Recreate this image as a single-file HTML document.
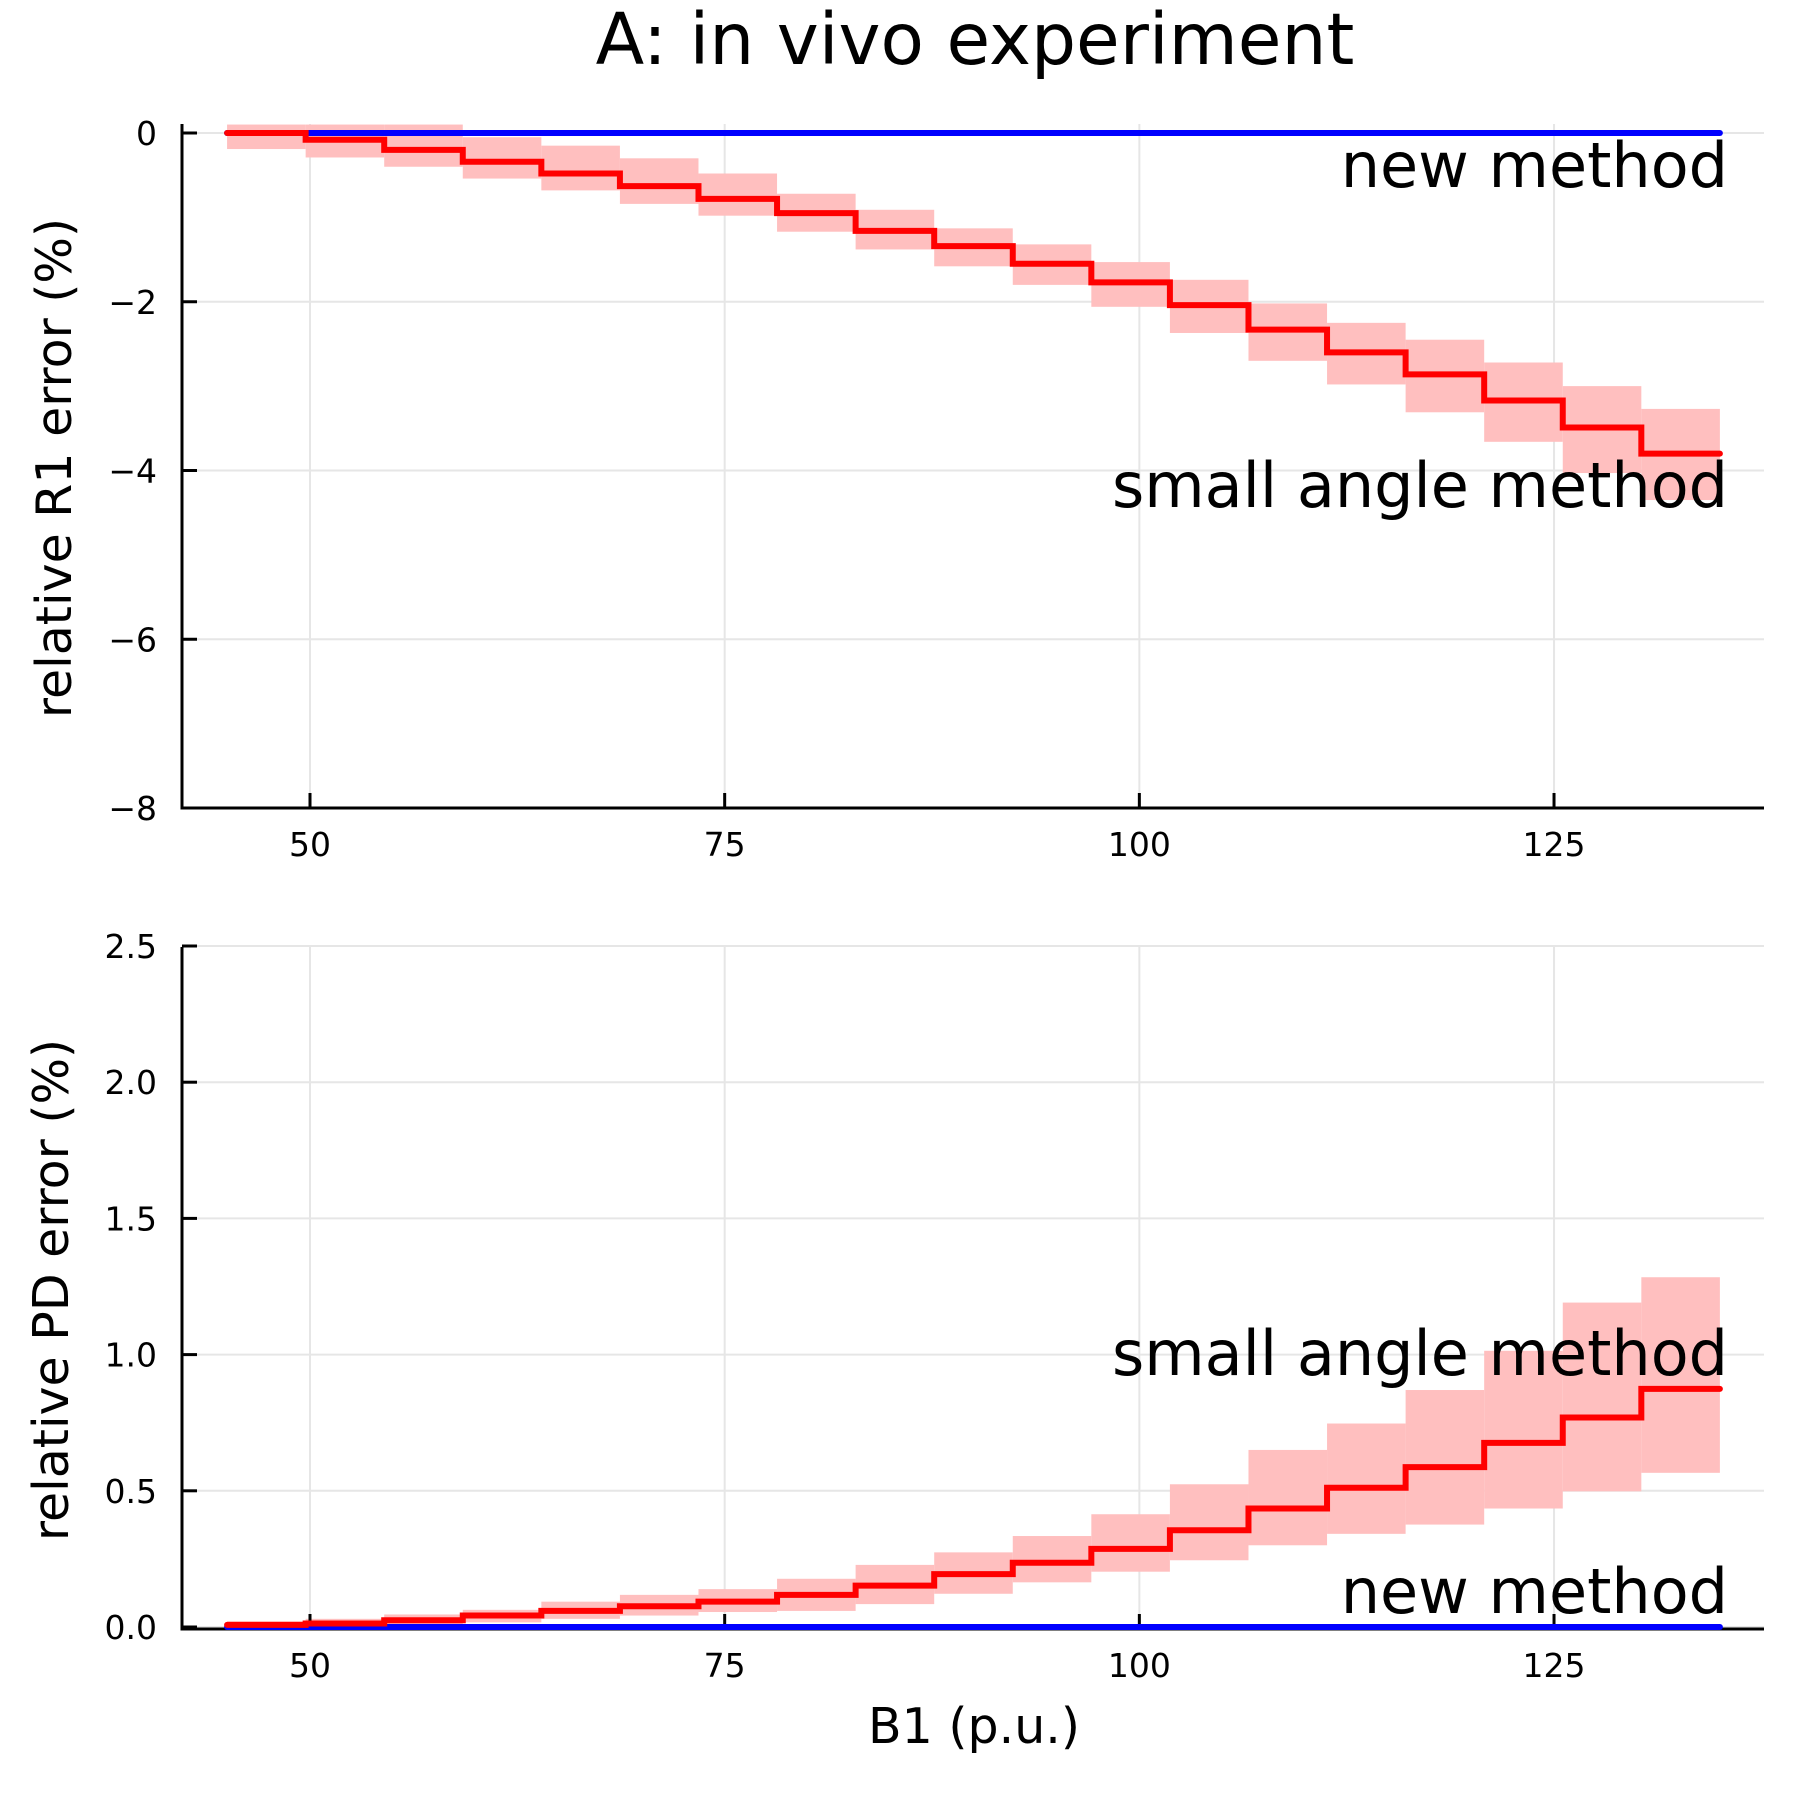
<!DOCTYPE html>
<html><head><meta charset="utf-8"><style>
body{margin:0;background:#fff}
svg text{font-family:"DejaVu Sans","Liberation Sans",sans-serif;fill:#000}
</style></head><body>
<svg id="chart" width="1799" height="1799" viewBox="0 0 1799 1799" xmlns="http://www.w3.org/2000/svg">
<rect width="1799" height="1799" fill="#fff"/>
<text x="975" y="64" font-size="71" text-anchor="middle">A: in vivo experiment</text>
<g id="top"></g>
<g id="bot"></g>
<text x="974" y="1743" font-size="49" text-anchor="middle">B1 (p.u.)</text>
<text transform="translate(71,468) rotate(-90)" font-size="49" text-anchor="middle">relative R1 error (%)</text>
<text transform="translate(68,1290) rotate(-90)" font-size="49" text-anchor="middle">relative PD error (%)</text>
</svg>
<script>
const binStart = 45, binEnd = 135, nBins = 19;
const xTicks = [50, 75, 100, 125];
const r1Ticks = [0, -2, -4, -6, -8];
const r1TickLabels = ["0", "−2", "−4", "−6", "−8"];
const pdTicks = [0, 0.5, 1.0, 1.5, 2.0, 2.5];
const pdTickLabels = ["0.0", "0.5", "1.0", "1.5", "2.0", "2.5"];
const r1Small = [0,-0.08,-0.2,-0.34,-0.48,-0.63,-0.78,-0.95,-1.16,-1.34,-1.55,-1.77,-2.04,-2.33,-2.6,-2.86,-3.17,-3.49,-3.8];
const r1SmallHi = [0.1,0.1,0.1,-0.05,-0.15,-0.3,-0.48,-0.72,-0.91,-1.13,-1.32,-1.53,-1.74,-2.02,-2.25,-2.45,-2.72,-3.0,-3.27];
const r1SmallLo = [-0.19,-0.29,-0.4,-0.54,-0.68,-0.84,-0.98,-1.17,-1.38,-1.58,-1.8,-2.06,-2.37,-2.7,-2.98,-3.31,-3.66,-4.03,-4.35];
const r1New = [0,0,0,0,0,0,0,0,0,0,0,0,0,0,0,0,0,0,0];
const pdSmall = [0.008,0.013,0.025,0.042,0.059,0.076,0.093,0.118,0.152,0.194,0.236,0.287,0.355,0.435,0.511,0.587,0.676,0.769,0.874];
const pdSmallHi = [0.021,0.03,0.046,0.063,0.093,0.118,0.139,0.177,0.228,0.274,0.334,0.414,0.524,0.65,0.747,0.87,1.014,1.191,1.284];
const pdSmallLo = [0,0,0.008,0.017,0.03,0.042,0.055,0.059,0.084,0.122,0.164,0.203,0.245,0.3,0.342,0.376,0.435,0.498,0.566];
const pdNew = [0,0,0,0,0,0,0,0,0,0,0,0,0,0,0,0,0,0,0];

const NS = "http://www.w3.org/2000/svg";
const X = x => 310 + (x - 50) * 16.587;
function mk(parent, tag, attrs){const e=document.createElementNS(NS,tag);for(const k in attrs)e.setAttribute(k,attrs[k]);parent.appendChild(e);return e;}

function panel(g, Y, top, bottom, ticks, labels, small, hi, lo, newv, notes, prefix){
  const L=182,R=1764;
  xTicks.forEach(t=>{
    const l=mk(g,'line',{x1:X(t),x2:X(t),y1:top,y2:bottom,stroke:'#e6e6e6','stroke-width':2});
    
    
  });
  ticks.forEach((t,i)=>{
    const l=mk(g,'line',{x1:L,x2:R,y1:Y(t),y2:Y(t),stroke:'#e6e6e6','stroke-width':2});
    
    
    const tk=mk(g,'line',{x1:L,x2:L+15,y1:Y(t),y2:Y(t),stroke:'#000','stroke-width':3});
    
    
    const tx=mk(g,'text',{x:157,y:Y(t)+12,'font-size':33,'text-anchor':'end'});
    tx.textContent=labels[i];
    
    
  });
  const w=(binEnd-binStart)/nBins;
  small.forEach((v,i)=>{
    const x0=X(binStart+i*w), x1=X(binStart+(i+1)*w);
    const r=mk(g,'rect',{x:x0,y:Y(hi[i]),width:x1-x0,height:Y(lo[i])-Y(hi[i]),fill:'#ffbfbf'});
    
    
  });
  const ax=mk(g,'path',{d:`M${L},${top}L${L},${bottom}L${R},${bottom}`,fill:'none',stroke:'#000','stroke-width':3});
  
  
  xTicks.forEach(t=>{
    const tk=mk(g,'line',{x1:X(t),x2:X(t),y1:bottom,y2:bottom-15,stroke:'#000','stroke-width':3});
    
    
    const tx=mk(g,'text',{x:X(t),y:bottom+48,'font-size':33,'text-anchor':'middle'});
    tx.textContent=String(t);
    
    
  });
  function stepPath(vals){
    let d='';
    vals.forEach((v,i)=>{
      const x0=X(binStart+i*w), x1=X(binStart+(i+1)*w);
      d+=(i===0?'M':'L')+x0+','+Y(v)+'L'+x1+','+Y(v);
    });
    return d;
  }
  const bl=mk(g,'path',{d:stepPath(newv),fill:'none',stroke:'#0000ff','stroke-width':6,'stroke-linecap':'round'});
  
  
  const rl=mk(g,'path',{d:stepPath(small),fill:'none',stroke:'#ff0000','stroke-width':6,'stroke-linecap':'round','stroke-linejoin':'miter'});
  
  
  notes.forEach(n=>{
    const tx=mk(g,'text',{x:1728,y:n.y,'font-size':62,'text-anchor':'end'});
    tx.textContent=n.t;
    
    
  });
}
const Ytop = y => 133 - y * 84.375;
const Ybot = y => 1627 - y * 272.4;
panel(document.getElementById('top'), Ytop, 124, 808, r1Ticks, r1TickLabels, r1Small, r1SmallHi, r1SmallLo, r1New,
  [{t:'new method',y:187,name:'r1-new-method-annotation'},{t:'small angle method',y:507,name:'r1-small-angle-annotation'}],'r1');
panel(document.getElementById('bot'), Ybot, 947, 1629, pdTicks, pdTickLabels, pdSmall, pdSmallHi, pdSmallLo, pdNew,
  [{t:'small angle method',y:1375,name:'pd-small-angle-annotation'},{t:'new method',y:1613,name:'pd-new-method-annotation'}],'pd');
</script>
</body></html>
